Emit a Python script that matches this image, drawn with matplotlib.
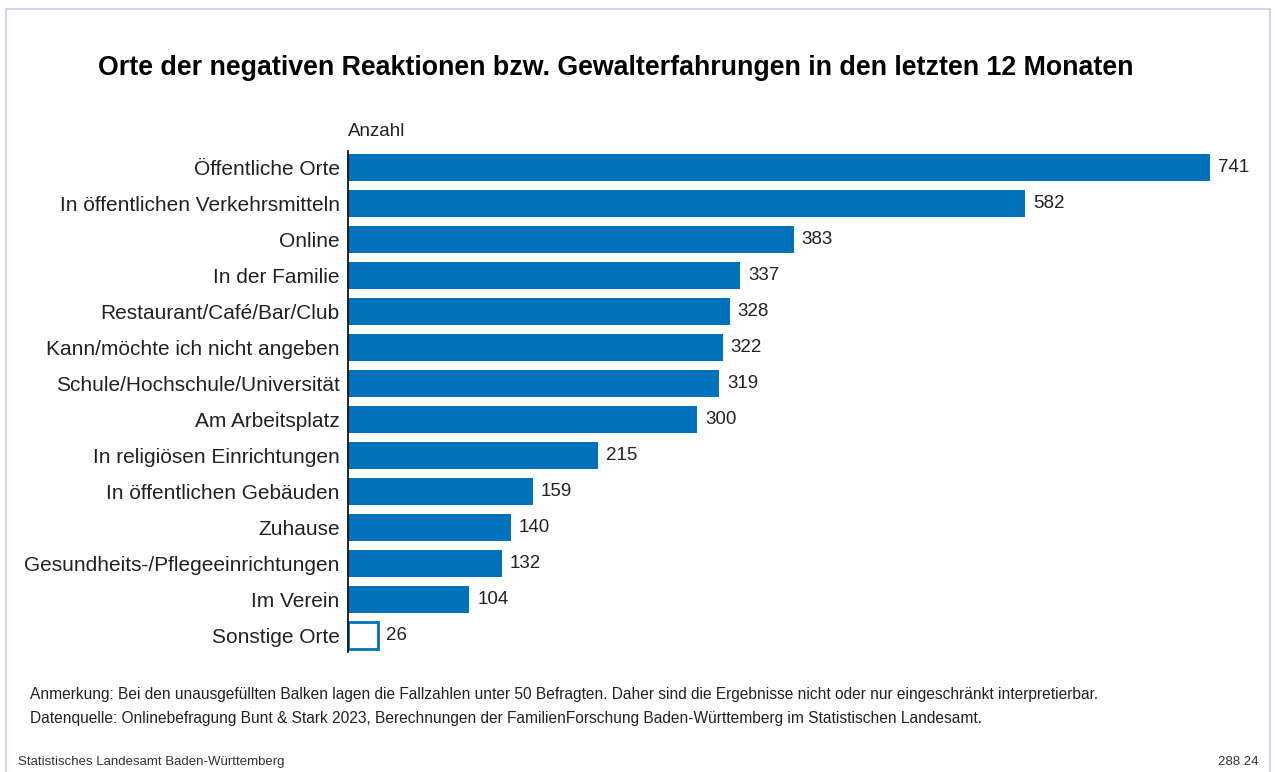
import matplotlib
matplotlib.use("Agg")
import matplotlib.pyplot as plt
from matplotlib.patches import Rectangle

# data
categories = ["Öffentliche Orte", "In öffentlichen Verkehrsmitteln", "Online", "In der Familie",
              "Restaurant/Café/Bar/Club", "Kann/möchte ich nicht angeben",
              "Schule/Hochschule/Universität", "Am Arbeitsplatz", "In religiösen Einrichtungen",
              "In öffentlichen Gebäuden", "Zuhause", "Gesundheits-/Pflegeeinrichtungen",
              "Im Verein", "Sonstige Orte"]
values = [741, 582, 383, 337, 328, 322, 319, 300, 215, 159, 140, 132, 104, 26]
unfilled = [False] * 13 + [True]

blue = "#0072bc"
txt = "#222222"
plt.rcParams['font.family'] = ['Liberation Sans', 'DejaVu Sans']

W, H = 1275, 772
fig = plt.figure(figsize=(W / 100, H / 100), dpi=100, facecolor="white")

# light frame round the chart (bottom edge lies below the picture)
fig.patches.append(Rectangle((6 / W, -20 / H), 1264 / W, (763 + 20) / H, transform=fig.transFigure,
                             fill=False, edgecolor="#c8cdea", linewidth=1.2))

ax = fig.add_axes([348 / W, 1 - 654 / H, (1210 - 348) / W, (654 - 149) / H])
ypos = list(range(len(categories)))
for y, v, empty in zip(ypos, values, unfilled):
    if empty:
        ax.barh(y, v, height=0.75, color="white", edgecolor=blue, linewidth=2)
    else:
        ax.barh(y, v, height=0.75, color=blue)
    ax.text(v + 7, y, str(v), va="center", ha="left", fontsize=13.5, color=txt)

ax.set_xlim(0, 741)
ax.set_ylim(13.5, -0.5)
ax.set_yticks(ypos)
ax.set_yticklabels(categories, fontsize=15, color=txt)
ax.tick_params(axis="y", length=0, pad=6)
ax.set_xticks([])
for s in ["top", "right", "bottom"]:
    ax.spines[s].set_visible(False)
ax.spines["left"].set_linewidth(1.2)
ax.spines["left"].set_bounds(13.45, -0.45)

fig.text(616 / W, 1 - 68 / H, "Orte der negativen Reaktionen bzw. Gewalterfahrungen in den letzten 12 Monaten",
         ha="center", va="center", fontsize=19.3, fontweight="bold", color="black")
fig.text(348 / W, 1 - 131 / H, "Anzahl", ha="left", va="center", fontsize=13.5, color=txt)

fig.text(30 / W, 1 - 695 / H, "Anmerkung: Bei den unausgefüllten Balken lagen die Fallzahlen unter 50 Befragten. "
         "Daher sind die Ergebnisse nicht oder nur eingeschränkt interpretierbar.",
         ha="left", va="center", fontsize=11.2, color=txt)
fig.text(30 / W, 1 - 719 / H, "Datenquelle: Onlinebefragung Bunt & Stark 2023, Berechnungen der FamilienForschung "
         "Baden-Württemberg im Statistischen Landesamt.",
         ha="left", va="center", fontsize=11.2, color=txt)
fig.text(18 / W, 1 - 762 / H, "Statistisches Landesamt Baden-Württemberg", ha="left", va="center",
         fontsize=9.5, color="#333333")
fig.text(1258 / W, 1 - 762 / H, "288 24", ha="right", va="center", fontsize=9.5, color="#333333")

fig.savefig("out.png", dpi=100, facecolor="white")
